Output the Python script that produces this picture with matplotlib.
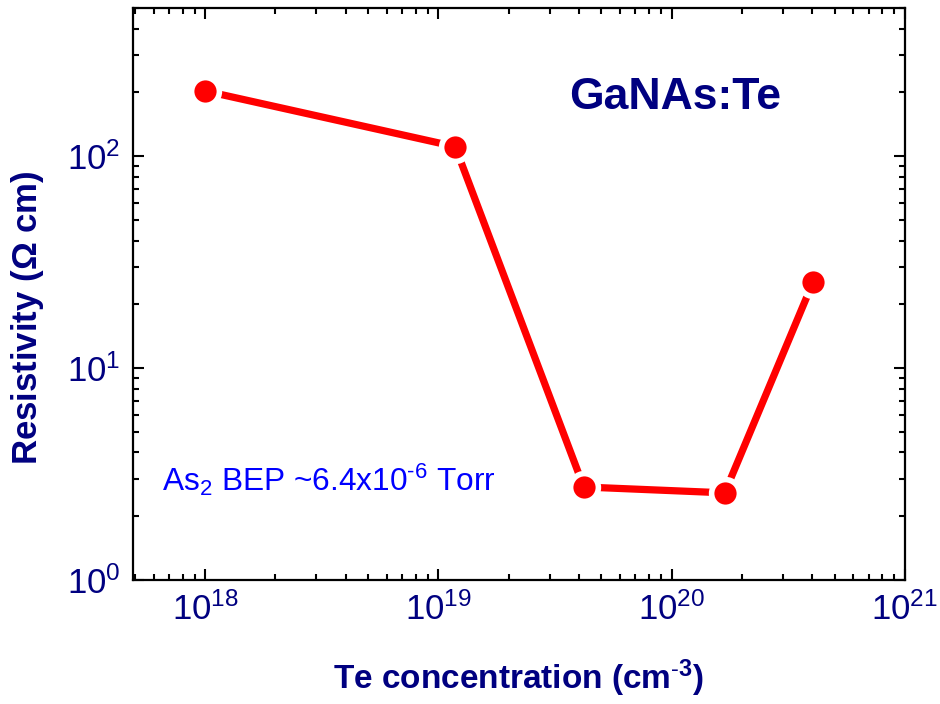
import matplotlib
matplotlib.use("Agg")
import matplotlib.pyplot as plt
from matplotlib.ticker import LogLocator, NullFormatter

plt.rcParams['font.family'] = ['Liberation Sans', 'DejaVu Sans']
plt.rcParams['mathtext.fontset'] = 'custom'
plt.rcParams['mathtext.rm'] = 'Liberation Sans'
plt.rcParams['mathtext.it'] = 'Liberation Sans'
plt.rcParams['mathtext.bf'] = 'Liberation Sans:bold'

# Te doping level vs. resistivity
te_conc = [1.0e18, 1.18e19, 4.2e19, 1.69e20, 4.05e20]
resistivity = [203, 111, 2.75, 2.58, 25.6]

navy = '#000080'

fig = plt.figure(figsize=(9.4, 7.04), dpi=100)
ax = fig.add_axes([0.1415, 0.176, 0.821, 0.8126])

ax.plot(te_conc, resistivity, color='red', lw=5.2, marker='o', ms=20,
        mfc='red', mec='white', mew=4, solid_capstyle='butt')

ax.set_xscale('log')
ax.set_yscale('log')
ax.set_xlim(4.9e17, 1e21)
ax.set_ylim(1, 500)

ax.xaxis.set_major_locator(LogLocator(base=10, numticks=10))
ax.xaxis.set_minor_locator(LogLocator(base=10, subs=range(2, 10), numticks=20))
ax.yaxis.set_major_locator(LogLocator(base=10, numticks=10))
ax.yaxis.set_minor_locator(LogLocator(base=10, subs=range(2, 10), numticks=20))
ax.xaxis.set_minor_formatter(NullFormatter())
ax.yaxis.set_minor_formatter(NullFormatter())

ax.tick_params(which='both', direction='in', top=True, right=True,
               width=1.5, colors='black', labelcolor=navy, labelsize=25)
ax.tick_params(which='major', length=8, pad=9)
ax.tick_params(which='minor', length=4)
for s in ax.spines.values():
    s.set_linewidth(1.6)

ax.set_xlabel(r'Te concentration (cm$^{\text{-}\mathbf{3}}$)', fontsize=24,
              fontweight='bold', color=navy, labelpad=22)
ax.set_ylabel(r'Resistivity ($\mathbf{\Omega}$ cm)', fontsize=25,
              fontweight='bold', color=navy)
ax.yaxis.set_label_coords(-0.113, 0.458)

ax.text(0.565, 0.844, 'GaNAs:Te', transform=ax.transAxes, fontsize=32,
        fontweight='bold', color=navy, ha='left', va='center')
ax.text(0.038, 0.176, r'As$_2$ BEP ~6.4x10$^{\text{-}6}$ Torr', transform=ax.transAxes,
        fontsize=22.8, color='#0000ff', ha='left', va='center')

fig.savefig('out.png', dpi=100)
